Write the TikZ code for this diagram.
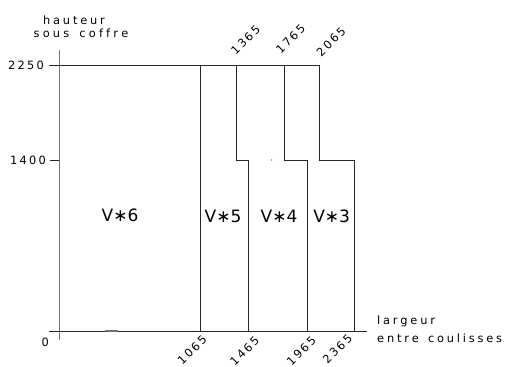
\documentclass[tikz,border=0pt]{standalone}
\usepackage{fontspec}
\setmainfont{DejaVu Sans}
\usetikzlibrary{positioning}
% wide CAD-like spacing between letters
\makeatletter
\newcommand\cadspread[2][2.8pt]{\@tfor\cadchar:=#2\do{\cadchar\kern#1}\unkern}
\makeatother
\newcommand\cadnum[1]{\cadspread[2.2pt]{#1}}
\tikzset{ticklab/.style={
        font=\fontsize{11.4}{13}\selectfont,
        inner sep=0pt } }
\tikzset{rotlab/.style={
        ticklab,
        rotate=45 } }
\tikzset{zonelab/.style={
        font=\fontsize{17}{19}\selectfont,
        inner sep=0pt } }
\tikzset{cadline/.style={
        draw=black!85,
        line width=0.9pt } }
\tikzset{axisline/.style={
        draw=black!55,
        line width=1.6pt } }

\begin{document}
\begin{tikzpicture}[x=1pt,y=-1pt] % pixel grid, y downwards
\useasboundingbox (0,0) rectangle (507,367);

% axes
\coordinate (ytop) at (59.3,50);
\coordinate (ybot) at (59.3,340);
\coordinate (xleft) at (49,331);
\coordinate (xright) at (367,331);
\coordinate (t2250) at (49,65.3);
\coordinate (t1400) at (50,160);
\coordinate (a1400) at (59.3,160);

% outline of the panels
\coordinate (p1065t) at (200.7,65.3);  \coordinate (p1065b) at (200.7,331);
\coordinate (p1365t) at (236.5,65.3);  \coordinate (p1365m) at (236.5,160);
\coordinate (p1465m) at (248,160);     \coordinate (p1465b) at (248,331);
\coordinate (p1765t) at (284,65.3);    \coordinate (p1765m) at (284,160);
\coordinate (p1965m) at (307,160);     \coordinate (p1965b) at (307,331);
\coordinate (p2065t) at (319.3,65.3);  \coordinate (p2065m) at (319.3,160);
\coordinate (p2365m) at (354,160);     \coordinate (p2365b) at (354,331);

\draw[axisline] (ytop) -- (ybot);
\draw[cadline] (xleft) -- (xright);
\draw[cadline] (t1400) -- (a1400);
\draw[cadline] (t2250) -- (p2065t);
\draw[cadline] (p1065t) -- (p1065b);
\draw[cadline] (p1365t) -- (p1365m) -- (p1465m) -- (p1465b);
\draw[cadline] (p1765t) -- (p1765m) -- (p1965m) -- (p1965b);
\draw[cadline] (p2065t) -- (p2065m) -- (p2365m) -- (p2365b);

% stray marks
\coordinate (dash1) at (105,331);
\coordinate (dash2) at (118,331);
\draw[axisline, line width=1.2pt] (dash1) -- (dash2);
\fill[black!70] (271.5,160) circle (0.6pt);

% axis texts
\node[ticklab] (hauteur) at (74,20) {\cadspread{hauteur}};
\node[ticklab] (souscoffre) at (81,33.5) {\cadspread[3.2pt]{sous~coffre}};
\node[ticklab, anchor=west] (largeur) at (377,321) {\cadspread{largeur}};
\node[ticklab, anchor=west] (entre) at (377,338) {\cadspread{entre~coulisses}};

\node[ticklab, anchor=east] (l2250) at (44,65.5) {\cadnum{2250}};
\node[ticklab, anchor=east] (l1400) at (46,160) {\cadnum{1400}};
\node[ticklab, anchor=east] (l0) at (49,342.5) {0};

\node[rotlab, anchor=south west] (l1365) at (236,56) {\cadnum{1365}};
\node[rotlab, anchor=south west] (l1765) at (281,55) {\cadnum{1765}};
\node[rotlab, anchor=south west] (l2065) at (321.5,57.5) {\cadnum{2065}};

\node[rotlab, anchor=south east] (l1065) at (208,340.5) {\cadnum{1065}};
\node[rotlab, anchor=south east] (l1465) at (260.5,341.5) {\cadnum{1465}};
\node[rotlab, anchor=south east] (l1965) at (317.2,341.5) {\cadnum{1965}};
\node[rotlab, anchor=south east] (l2365) at (353.3,339.5) {\cadnum{2365}};

% panel names
\node[zonelab] (v6) at (120,215) {V∗6};
\node[zonelab] (v5) at (223,216) {V∗5};
\node[zonelab] (v4) at (279,216) {V∗4};
\node[zonelab] (v3) at (331.7,216) {V∗3};

\end{tikzpicture}
\end{document}
